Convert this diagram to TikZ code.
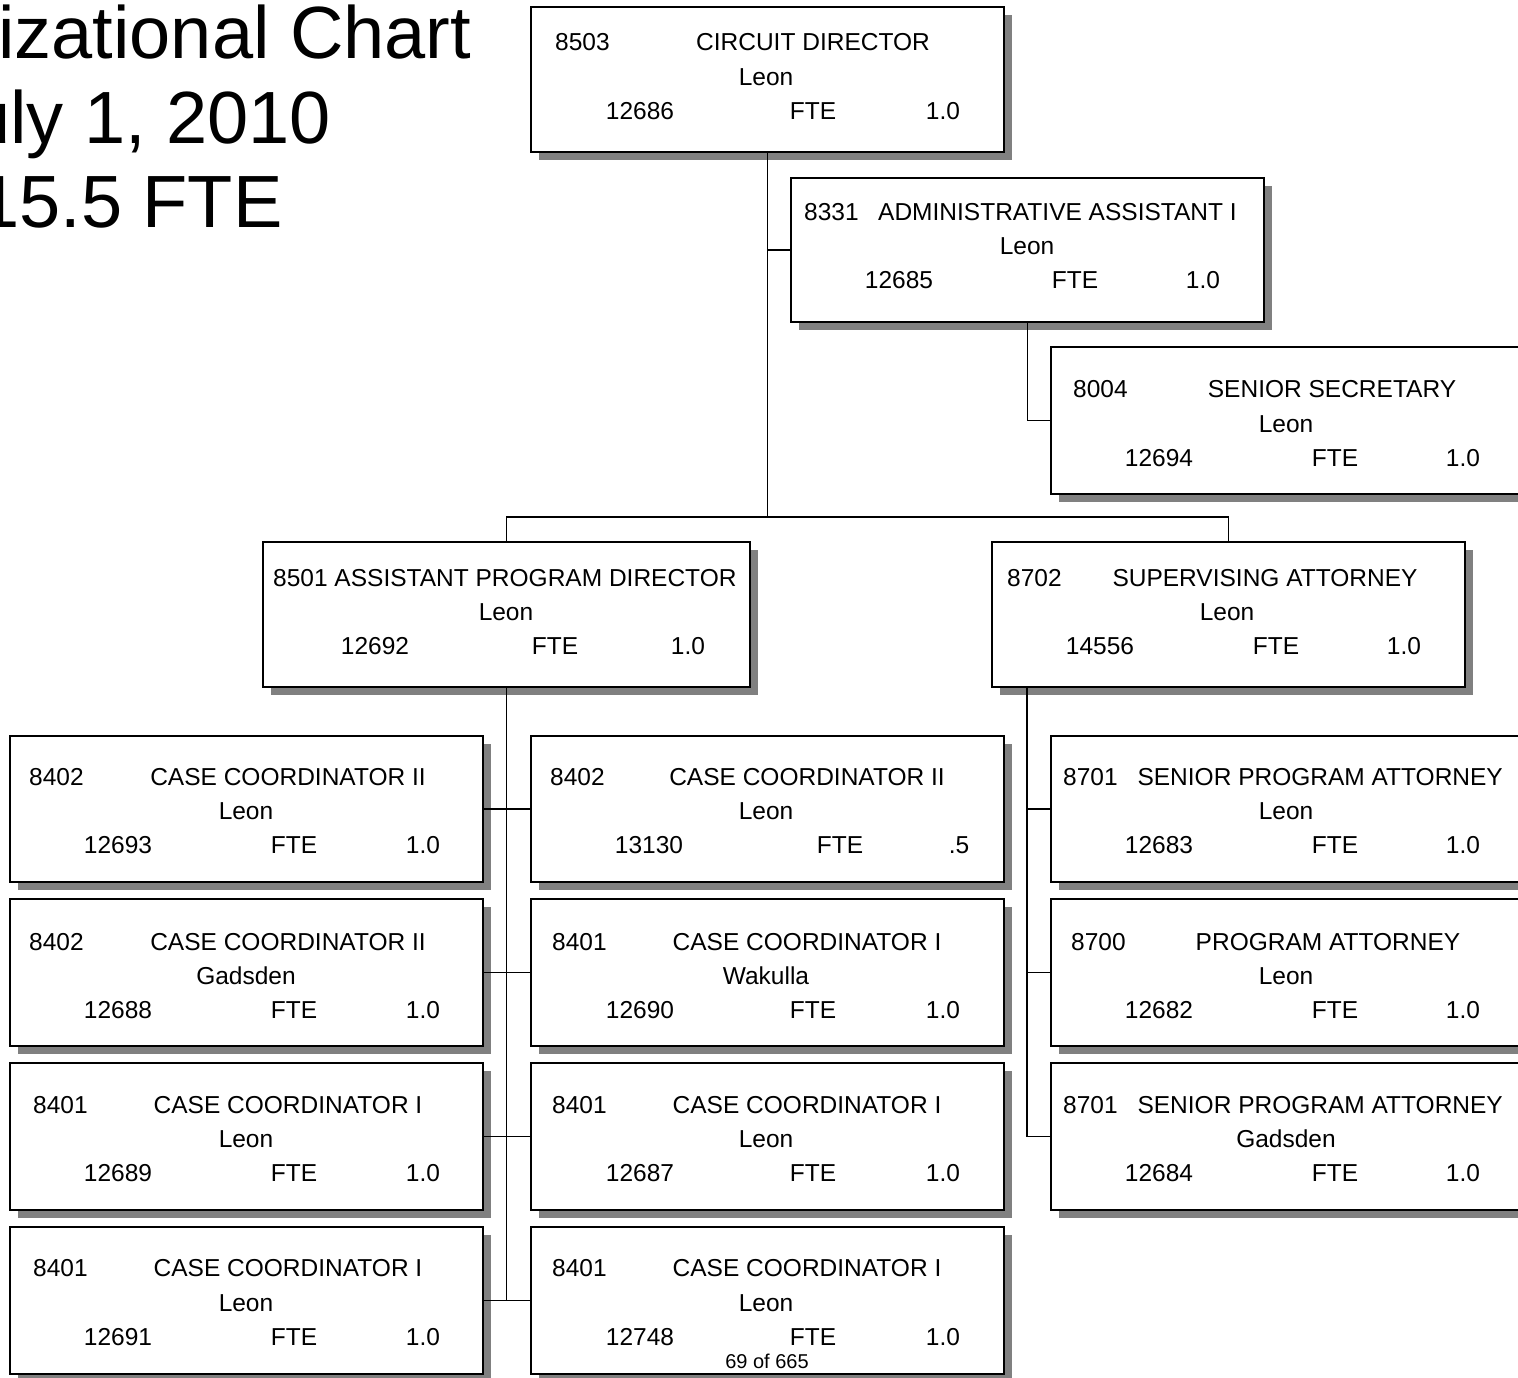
\documentclass[tikz,border=0pt]{standalone}
\usepackage{fontspec}
\setmainfont{Liberation Sans}
\usetikzlibrary{shadows}
\definecolor{shadowgray}{HTML}{808080}
\newcounter{tc}
\newcommand\boxfnt{\fontsize{24.5}{29}\selectfont}
\newcommand\titlefnt{\fontsize{74}{85}\selectfont}
\newcommand\obox[5]{%
  \pgfmathsetmacro\bw{#4-#2}\pgfmathsetmacro\bh{#5-#3}%
  \node[obox, minimum width=\bw pt, minimum height=\bh pt] (#1) at ({(#2+#4)/2},{(#3+#5)/2}) {};}
% centered text at x, baseline y
\newcommand\tc[3]{\stepcounter{tc}\node[txt, anchor=base] (t\arabic{tc}) at (#1,#2) {#3};}
% left aligned text
\newcommand\tl[3]{\stepcounter{tc}\node[txt, anchor=base west] (t\arabic{tc}) at (#1,#2) {#3};}
% right aligned text
\newcommand\tr[3]{\stepcounter{tc}\node[txt, anchor=base east] (t\arabic{tc}) at (#1,#2) {#3};}
% standard three-line text: code x, title (center) x, title, place x, place, num x, num, fte x, val x, val, y1, y2, y3
\begin{document}
\begin{tikzpicture}[x=1pt,y=-1pt,
  obox/.style={draw=black, line width=1.6pt, fill=white, inner sep=0pt,
    general shadow={fill=shadowgray, shadow xshift=8pt, shadow yshift=-8pt}},
  txt/.style={inner sep=0pt, font=\boxfnt, text=black},
  conn/.style={draw=black, line width=1.6pt},
  title/.style={inner sep=0pt, font=\titlefnt, anchor=base west}]
\useasboundingbox (0,0) rectangle (1518,1377);
\clip (0,0) rectangle (1518,1377);

% title
\node[title] (ttl1) at (-2,58) {izational Chart};
\node[title] (ttl2) at (-31,143) {uly 1, 2010};
\node[title] (ttl3) at (-22,227) {15.5 FTE};

% boxes
\obox{top}{531}{7}{1004}{152}
\obox{adm}{791}{178}{1264}{322}
\obox{sec}{1051}{347}{1524}{494}
\obox{apd}{263}{542}{750}{687}
\obox{sup}{992}{542}{1465}{687}
\obox{aL}{10}{736}{483}{882}
\obox{aM}{531}{736}{1004}{882}
\obox{aR}{1051}{736}{1524}{882}
\obox{bL}{10}{899}{483}{1046}
\obox{bM}{531}{899}{1004}{1046}
\obox{bR}{1051}{899}{1524}{1046}
\obox{cL}{10}{1063}{483}{1210}
\obox{cM}{531}{1063}{1004}{1210}
\obox{cR}{1051}{1063}{1524}{1210}
\obox{dL}{10}{1227}{483}{1374}
\obox{dM}{531}{1227}{1004}{1374}

% connectors
\coordinate (bus) at (767.5,517);
\draw[conn] (top.south) -- (bus);
\draw[conn] (top.south |- adm.west) -- (adm.west);
\draw[conn] (adm.south) |- (sec.west);
\draw[conn] (apd.north) |- (bus) -| (sup.north);
\draw[conn] (apd.south) -- (apd.south |- dL.east);
\draw[conn] (aL.east) -- (aM.west);
\draw[conn] (bL.east) -- (bM.west);
\draw[conn] (cL.east) -- (cM.west);
\draw[conn] (dL.east) -- (dM.west);
\coordinate (st) at ([xshift=36pt]sup.south west);
\draw[conn] (st) |- (cR.west);
\draw[conn] (st |- aR.west) -- (aR.west);
\draw[conn] (st |- bR.west) -- (bR.west);

% texts: top
\tl{555}{50}{8503} \tc{813}{50}{CIRCUIT DIRECTOR}
\tc{766}{85}{Leon}
\tc{640}{119}{12686} \tc{813}{119}{FTE} \tc{943}{119}{1.0}
% admin
\tl{804}{220}{8331} \tl{878}{220}{ADMINISTRATIVE ASSISTANT I}
\tc{1027}{254}{Leon}
\tc{899}{288}{12685} \tc{1075}{288}{FTE} \tc{1203}{288}{1.0}
% senior secretary
\tl{1073}{397}{8004} \tc{1332}{397}{SENIOR SECRETARY}
\tc{1286}{432}{Leon}
\tc{1159}{466}{12694} \tc{1335}{466}{FTE} \tc{1463}{466}{1.0}
% APD
\tl{273}{586}{8501 ASSISTANT PROGRAM DIRECTOR}
\tc{506}{620}{Leon}
\tc{375}{654}{12692} \tc{555}{654}{FTE} \tc{688}{654}{1.0}
% supervising
\tl{1007}{586}{8702} \tc{1265}{586}{SUPERVISING ATTORNEY}
\tc{1227}{620}{Leon}
\tc{1100}{654}{14556} \tc{1276}{654}{FTE} \tc{1404}{654}{1.0}

% row 1
\tl{29}{785}{8402} \tc{288}{785}{CASE COORDINATOR II}
\tc{246}{819}{Leon}
\tc{118}{853}{12693} \tc{294}{853}{FTE} \tc{423}{853}{1.0}
\tl{550}{785}{8402} \tc{807}{785}{CASE COORDINATOR II}
\tc{766}{819}{Leon}
\tc{649}{853}{13130} \tc{840}{853}{FTE} \tc{959}{853}{.5}
\tl{1063}{785}{8701} \tr{1503}{785}{SENIOR PROGRAM ATTORNEY}
\tc{1286}{819}{Leon}
\tc{1159}{853}{12683} \tc{1335}{853}{FTE} \tc{1463}{853}{1.0}
% row 2
\tl{29}{950}{8402} \tc{288}{950}{CASE COORDINATOR II}
\tc{246}{984}{Gadsden}
\tc{118}{1018}{12688} \tc{294}{1018}{FTE} \tc{423}{1018}{1.0}
\tl{552}{950}{8401} \tc{807}{950}{CASE COORDINATOR I}
\tc{766}{984}{Wakulla}
\tc{640}{1018}{12690} \tc{813}{1018}{FTE} \tc{943}{1018}{1.0}
\tl{1071}{950}{8700} \tc{1328}{950}{PROGRAM ATTORNEY}
\tc{1286}{984}{Leon}
\tc{1159}{1018}{12682} \tc{1335}{1018}{FTE} \tc{1463}{1018}{1.0}
% row 3
\tl{33}{1113}{8401} \tc{288}{1113}{CASE COORDINATOR I}
\tc{246}{1147}{Leon}
\tc{118}{1181}{12689} \tc{294}{1181}{FTE} \tc{423}{1181}{1.0}
\tl{552}{1113}{8401} \tc{807}{1113}{CASE COORDINATOR I}
\tc{766}{1147}{Leon}
\tc{640}{1181}{12687} \tc{813}{1181}{FTE} \tc{943}{1181}{1.0}
\tl{1063}{1113}{8701} \tr{1503}{1113}{SENIOR PROGRAM ATTORNEY}
\tc{1286}{1147}{Gadsden}
\tc{1159}{1181}{12684} \tc{1335}{1181}{FTE} \tc{1463}{1181}{1.0}
% row 4
\tl{33}{1276}{8401} \tc{288}{1276}{CASE COORDINATOR I}
\tc{246}{1311}{Leon}
\tc{118}{1345}{12691} \tc{294}{1345}{FTE} \tc{423}{1345}{1.0}
\tl{552}{1276}{8401} \tc{807}{1276}{CASE COORDINATOR I}
\tc{766}{1311}{Leon}
\tc{640}{1345}{12748} \tc{813}{1345}{FTE} \tc{943}{1345}{1.0}
\stepcounter{tc}\node[inner sep=0pt, font=\fontsize{20}{24}\selectfont, anchor=base] (pg) at (767,1368) {69 of 665};
\end{tikzpicture}
\end{document}
